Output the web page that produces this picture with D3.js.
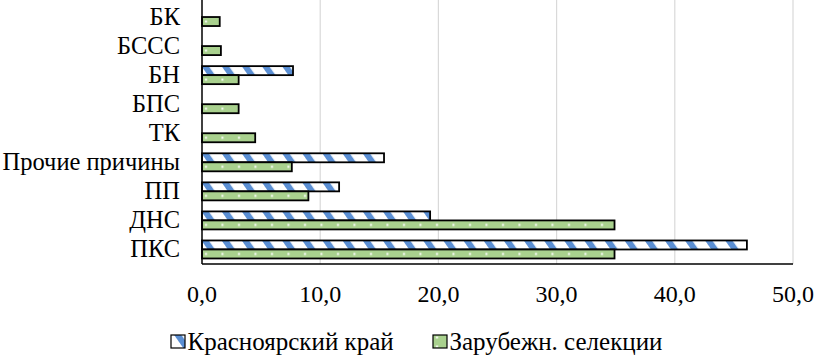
<!DOCTYPE html>
<html>
<head>
<meta charset="utf-8">
<script src="https://cdn.jsdelivr.net/npm/d3@7"></script>
<style>
  body { margin: 0; background: #fff; }
</style>
</head>
<body>
<div id="chart"></div>
<script>
const categories = ["БК", "БССС", "БН", "БПС", "ТК", "Прочие причины", "ПП", "ДНС", "ПКС"];
const seriesNames = ["Красноярский край", "Зарубежн. селекции"];
const krasnoyarsk = [0, 0, 7.7, 0, 0, 15.4, 11.6, 19.3, 46.1];
const foreign = [1.5, 1.6, 3.1, 3.1, 4.5, 7.6, 9.0, 34.9, 34.9];
const xTicks = [0, 10, 20, 30, 40, 50];

const W = 815, H = 356;
const plot = { left: 202, right: 793, top: 2.5, bottom: 264 };
const FONT = "'Liberation Serif'";

const svg = d3.select("#chart").append("svg")
    .attr("width", W)
    .attr("height", H);

// patterns
const defs = svg.append("defs");
const stripes = defs.append("pattern")
    .attr("id", "stripes")
    .attr("patternUnits", "userSpaceOnUse")
    .attr("width", 16.5).attr("height", 16.5)
    .attr("patternTransform", "rotate(-35)");
stripes.append("rect").attr("width", 16.5).attr("height", 16.5).attr("fill", "#fff");
stripes.append("rect").attr("width", 6).attr("height", 16.5).attr("fill", "#5b8fd3");

const dots = defs.append("pattern")
    .attr("id", "dots")
    .attr("patternUnits", "userSpaceOnUse")
    .attr("width", 16.5).attr("height", 9);
dots.append("rect").attr("width", 16.5).attr("height", 9).attr("fill", "#a9d18e");
dots.append("rect").attr("x", 7).attr("y", 3.5).attr("width", 2).attr("height", 2).attr("fill", "#fff");

const x = d3.scaleLinear().domain([0, 50]).range([plot.left, plot.right]);

const y = d3.scaleBand()
    .domain(categories)
    .range([plot.top, plot.bottom])
    .paddingInner(0.38)
    .paddingOuter(0.19);

const y1 = d3.scaleBand()
    .domain(seriesNames)
    .range([0, y.bandwidth()]);

// gridlines
svg.append("g")
  .selectAll("line")
  .data(xTicks.slice(1))
  .join("line")
    .attr("x1", d => x(d)).attr("x2", d => x(d))
    .attr("y1", 0).attr("y2", plot.bottom)
    .attr("stroke", "#d9d9d9")
    .attr("stroke-width", 1.2);

// bars
const rows = categories.map((c, i) => ({ cat: c, vals: [krasnoyarsk[i], foreign[i]] }));
const fills = ["url(#stripes)", "url(#dots)"];

svg.append("g")
  .selectAll("g")
  .data(rows)
  .join("g")
    .attr("transform", d => `translate(0,${y(d.cat)})`)
  .selectAll("rect")
  .data(d => d.vals.map((v, j) => ({ s: seriesNames[j], v, j })).filter(e => e.v > 0))
  .join("rect")
    .attr("x", x(0))
    .attr("y", d => y1(d.s))
    .attr("width", d => x(d.v) - x(0))
    .attr("height", y1.bandwidth())
    .attr("fill", d => fills[d.j])
    .attr("stroke", "#000")
    .attr("stroke-width", 1.8);

// axis lines
svg.append("line")
    .attr("x1", plot.left).attr("x2", plot.left)
    .attr("y1", 0).attr("y2", plot.bottom)
    .attr("stroke", "#000").attr("stroke-width", 1.5);
svg.append("line")
    .attr("x1", plot.left).attr("x2", plot.right)
    .attr("y1", plot.bottom).attr("y2", plot.bottom)
    .attr("stroke", "#000").attr("stroke-width", 1.5);

// category labels
svg.append("g")
  .selectAll("text")
  .data(categories)
  .join("text")
    .attr("x", 180)
    .attr("y", d => y(d) + y.bandwidth() / 2 + 8)
    .attr("text-anchor", "end")
    .style("font-family", FONT)
    .style("font-size", "24.5px")
    .text(d => d);

// x tick labels
const fmt = d => d3.format(".1f")(d).replace(".", ",");
svg.append("g")
  .selectAll("text")
  .data(xTicks)
  .join("text")
    .attr("x", d => x(d))
    .attr("y", 302)
    .attr("text-anchor", "middle")
    .style("font-family", FONT)
    .style("font-size", "24px")
    .text(fmt);

// legend
const legend = svg.append("g");
const legX = [171, 433];
seriesNames.forEach((name, i) => {
  legend.append("rect")
    .attr("x", legX[i]).attr("y", 335)
    .attr("width", 14).attr("height", 13)
    .attr("fill", fills[i])
    .attr("stroke", "#000")
    .attr("stroke-width", 1.2);
  legend.append("text")
    .attr("x", legX[i] + 16.5)
    .attr("y", 350)
    .style("font-family", FONT)
    .style("font-size", "25px")
    .text(name);
});
</script>
</body>
</html>
